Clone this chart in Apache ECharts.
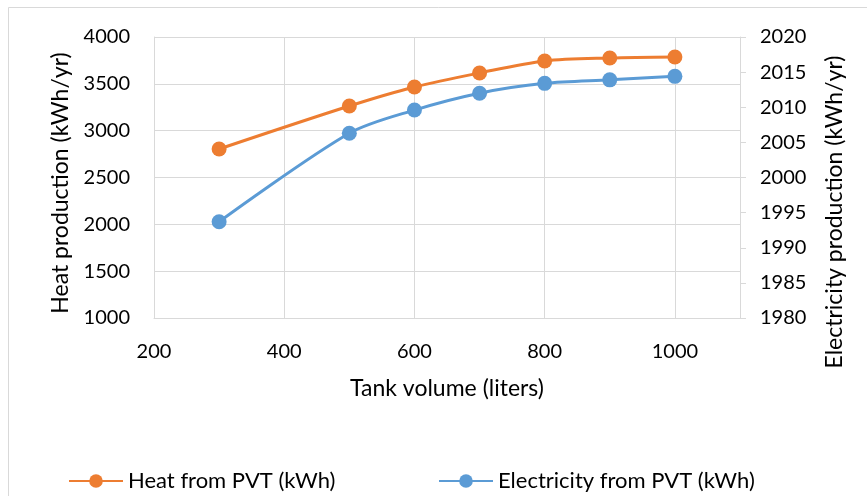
<!DOCTYPE html>
<html>
<head>
<meta charset="utf-8">
<script src="https://cdn.jsdelivr.net/npm/echarts@6/dist/echarts.min.js"></script>
<style>
  html, body { margin: 0; padding: 0; background: #fff; }
  #chart { width: 867px; height: 496px; }
</style>
</head>
<body>
<div id="chart"></div>
<script>
// Tank volumes (liters) and annual production of the PVT system
const tankVolumes = [300, 500, 600, 700, 800, 900, 1000];
const heatKWh = [2804, 3263, 3466, 3616, 3744, 3776, 3787];
const electricityKWh = [1993.7, 2006.3, 2009.6, 2012.0, 2013.4, 2013.9, 2014.4];

const seriesNames = ['Heat from PVT (kWh)', 'Electricity from PVT (kWh)'];
const xAxisTitle = 'Tank volume (liters)';
const leftAxisTitle = 'Heat production (kWh/yr)';
const rightAxisTitle = 'Electricity production (kWh/yr)';

const ORANGE = '#ED7D31';
const BLUE = '#5B9BD5';
const GRID = '#D9D9D9';
const FONT = 'Lato';
const TICK_SIZE = 20;
const TITLE_SIZE = 23;
const LEGEND_SIZE = 22;

const chart = echarts.init(document.getElementById('chart'), null, { renderer: 'canvas' });

const pair = (xs, ys) => xs.map((x, i) => [x, ys[i]]);
const plain = v => String(v);

// vertical axis title drawn as rotated text
const sideTitle = (text, x, y) => ({
  type: 'text',
  x: x,
  y: y,
  rotation: Math.PI / 2,
  style: {
    text: text,
    fontFamily: FONT,
    fontSize: TITLE_SIZE,
    fill: '#000',
    align: 'center',
    verticalAlign: 'middle'
  },
  silent: true
});

const legendBlock = (name, left) => ({
  left: left,
  top: 470,
  padding: 0,
  itemWidth: 54,
  itemHeight: 17,
  textStyle: { fontFamily: FONT, fontSize: LEGEND_SIZE, color: '#000', padding: [0, 0, 0, 0] },
  data: [name]
});

chart.setOption({
  animation: false,
  backgroundColor: '#fff',
  textStyle: { fontFamily: FONT, color: '#000' },
  graphic: [{
    type: 'rect',
    shape: { x: 8.5, y: 7.5, width: 900, height: 600 },
    style: { fill: null, stroke: GRID, lineWidth: 1 },
    silent: true
  },
  sideTitle(leftAxisTitle, 61, 183),
  sideTitle(rightAxisTitle, 835, 212)],
  grid: { left: 154, right: 127, top: 37, bottom: 178 },
  legend: [legendBlock(seriesNames[0], 68), legendBlock(seriesNames[1], 438)],
  xAxis: {
    type: 'value',
    min: 200,
    max: 1100,
    interval: 200,
    name: xAxisTitle,
    nameLocation: 'middle',
    nameGap: 59,
    nameTextStyle: { fontFamily: FONT, fontSize: TITLE_SIZE, color: '#000' },
    axisLine: { show: true, lineStyle: { color: GRID, width: 1 } },
    axisTick: { show: false },
    axisLabel: {
      fontFamily: FONT, fontSize: TICK_SIZE, color: '#000', margin: 24,
      formatter: v => (v % 200 === 0 ? String(v) : '')
    },
    splitLine: { show: true, lineStyle: { color: GRID, width: 1 } }
  },
  yAxis: [{
    type: 'value',
    min: 1000,
    max: 4000,
    interval: 500,
    axisLine: { show: true, lineStyle: { color: GRID, width: 1 } },
    axisTick: { show: false },
    axisLabel: { fontFamily: FONT, fontSize: TICK_SIZE, color: '#000', margin: 24, formatter: plain },
    splitLine: { show: true, lineStyle: { color: GRID, width: 1 } }
  }, {
    type: 'value',
    min: 1980,
    max: 2020,
    interval: 5,
    position: 'right',
    axisLine: { show: true, lineStyle: { color: GRID, width: 1 } },
    axisTick: { show: true, length: 6, lineStyle: { color: GRID, width: 1 } },
    axisLabel: { fontFamily: FONT, fontSize: TICK_SIZE, color: '#000', margin: 20, formatter: plain },
    splitLine: { show: false }
  }],
  series: [{
    name: seriesNames[0],
    type: 'line',
    yAxisIndex: 0,
    data: pair(tankVolumes, heatKWh),
    smooth: 0.3,
    symbol: 'circle',
    symbolSize: 15,
    itemStyle: { color: ORANGE },
    lineStyle: { color: ORANGE, width: 3 },
    z: 3
  }, {
    name: seriesNames[1],
    type: 'line',
    yAxisIndex: 1,
    data: pair(tankVolumes, electricityKWh),
    smooth: 0.3,
    symbol: 'circle',
    symbolSize: 15,
    itemStyle: { color: BLUE },
    lineStyle: { color: BLUE, width: 3 },
    z: 2
  }]
});
</script>
</body>
</html>
